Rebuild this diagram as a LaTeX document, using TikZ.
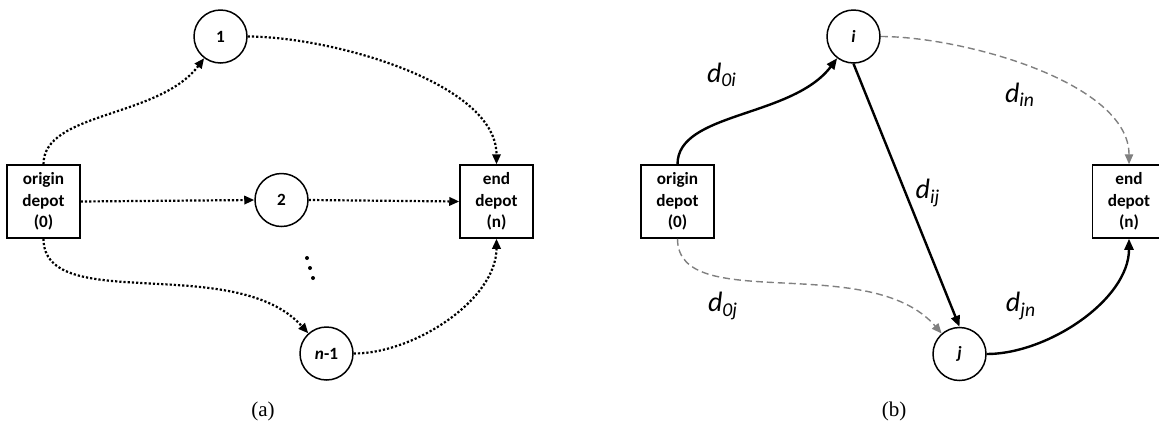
\documentclass[tikz,border=0pt]{standalone}
\usepackage{fontspec}
\setmainfont{Carlito}
\newfontfamily\capfont{Liberation Serif}
\usetikzlibrary{positioning, arrows.meta}

\begin{document}
\begin{tikzpicture}[x=0.5pt, y=0.5pt,
    depot/.style={draw, line width=0.75pt, minimum width=36.5pt, minimum height=36.5pt, inner sep=0pt, align=center, font=\bfseries\fontsize{8.6}{10.8}\selectfont},
    cust/.style={draw, circle, line width=0.75pt, minimum size=26.5pt, inner sep=0pt, font=\bfseries\fontsize{8.6}{10}\selectfont},
    dotarc/.style={line width=1.1pt, dash pattern=on 1.1pt off 1pt, -{Triangle[length=5pt,width=4.2pt]}},
    solidarc/.style={line width=1.2pt, -{Triangle[length=5.5pt,width=4.5pt]}},
    greyarc/.style={gray, line width=0.7pt, dash pattern=on 3.5pt off 2pt, -{Triangle[length=5pt,width=4.2pt]}},
    dlab/.style={font=\itshape\fontsize{14}{16}\selectfont},
    captxt/.style={font=\capfont\fontsize{10.5}{12}\selectfont}]

        \useasboundingbox (0,0) rectangle (1159,-424);

        % (a) nodes
        \node[depot] (orgA) at (43.5,-201.5) {origin\\depot\\(0)};
        \node[depot] (endA) at (496.5,-201.5) {end\\depot\\(n)};
        \node[cust] (c1) at (220.5,-36.5) {1};
        \node[cust] (c2) at (281.5,-200) {2};
        \node[cust] (cn) at (326.5,-353.5) {\textit{n}-1};

        % dots between 2 and n-1
        \fill (307,-258) circle (2);
        \fill (310,-268) circle (2);
        \fill (313,-278) circle (2);

        % (a) routes
        \draw[dotarc] (orgA.north) to[out=90, in=-127, out looseness=0.7] (c1);
        \draw[dotarc] (orgA.east) -- (c2.west);
        \draw[dotarc] (orgA.south) to[out=-90, in=132, out looseness=0.7] (cn);
        \draw[dotarc] (c1.east) to[out=0, in=90, looseness=0.75] (endA.north);
        \draw[dotarc] (c2.east) -- (endA.west);
        \draw[dotarc] (cn.east) to[out=0, in=-90, looseness=0.85] (endA.south);

        \node[captxt] (capA) at (263,-411) {(a)};

        % (b) nodes
        \node[depot] (orgB) at (677.5,-201.5) {origin\\depot\\(0)};
        \node[depot] (endB) at (1129,-201.5) {end\\depot\\(n)};
        \node[cust] (ci) at (853.5,-36.5) {\textit{i}};
        \node[cust] (cj) at (959.5,-354) {\textit{j}};

        % (b) routes
        \draw[solidarc] (orgB.north) to[out=90, in=-127, out looseness=0.7] (ci);
        \draw[greyarc] (orgB.south) to[out=-90, in=131, out looseness=0.7] (cj);
        \draw[solidarc] (ci.south) -- (cj.north);
        \draw[greyarc] (ci.east) to[out=0, in=90, looseness=0.75] (endB.north);
        \draw[solidarc] (cj.east) to[out=0, in=-90, looseness=0.85] (endB.south);

        % distance labels
        \node[dlab] (d0i) at (722,-75) {d\textsubscript{0i}};
        \node[dlab] (din) at (1020,-95) {d\textsubscript{in}};
        \node[dlab] (dij) at (928,-193) {d\textsubscript{ij}};
        \node[dlab] (d0j) at (723,-306) {d\textsubscript{0j}};
        \node[dlab] (djn) at (1021,-306) {d\textsubscript{jn}};

        \node[captxt] (capB) at (894,-411) {(b)};

    \end{tikzpicture}
\end{document}
